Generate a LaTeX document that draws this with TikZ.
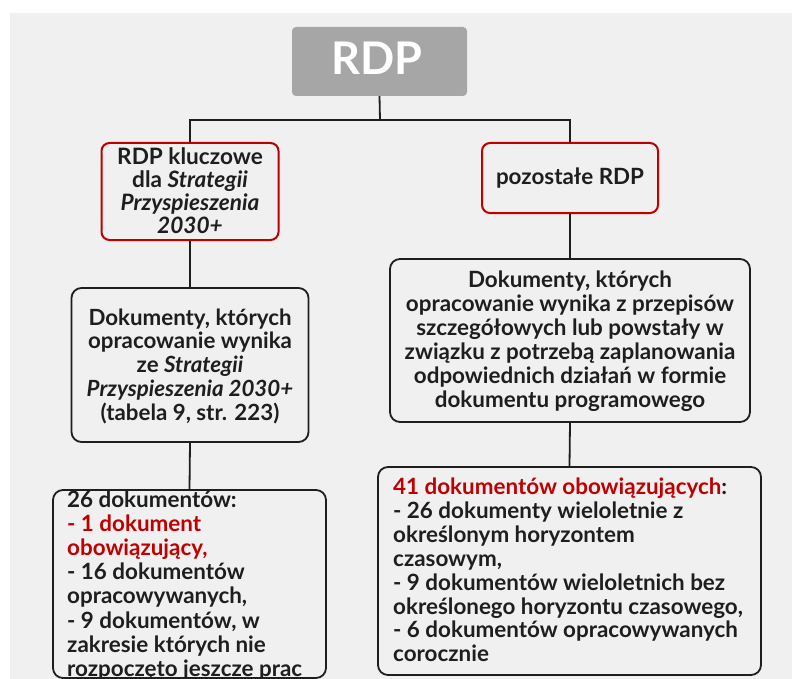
\documentclass[tikz,border=0pt]{standalone}
\usepackage{fontspec}
\setmainfont{Lato}
\definecolor{bg}{HTML}{F0F0F0}
\definecolor{ink}{HTML}{1E1E1E}
\definecolor{redc}{HTML}{C00000}
\definecolor{topg}{HTML}{A6A6A6}
\newcommand{\clines}[1]{\vtop{\halign{\hfil##\hfil\cr#1\crcr}}}
\newcommand{\llines}[1]{\vtop{\halign{##\hfil\cr#1\crcr}}}
\tikzset{
  box/.style={draw=ink, line width=1.8pt, rounded corners=10pt, inner sep=0pt, fill=bg},
  redbox/.style={draw=redc, line width=2pt, rounded corners=8pt, inner sep=0pt, fill=bg},
  topbox/.style={fill=topg, rounded corners=4pt, inner sep=0pt},
  txt/.style={inner sep=0pt, anchor=base, text=ink, font=\bfseries},
  link/.style={draw=ink, line width=1.8pt},
}
\begin{document}
\begin{tikzpicture}[x=1pt,y=-1pt]
\useasboundingbox (0,0) rectangle (792,679);
\clip (0,0) rectangle (792,679);
\fill[bg] (10,13) rectangle (792,679);

% boxes
\node[topbox, minimum width=175pt, minimum height=69pt] (rdp) at (379.5,61.5) {};
\node[redbox, minimum width=177pt, minimum height=97pt] (lred) at (190,191.5) {};
\node[redbox, minimum width=176pt, minimum height=70pt] (rred) at (570,178) {};
\node[box, minimum width=237pt, minimum height=154pt] (lmid) at (190,365) {};
\node[box, minimum width=360pt, minimum height=163pt] (rmid) at (570,340.5) {};
\node[box, minimum width=273pt, minimum height=188pt] (lbot) at (189.5,584) {};
\node[box, minimum width=383pt, minimum height=208pt] (rbot) at (569.5,571) {};

% connectors
\coordinate (j) at (380,120);
\draw[link] (rdp.south) -- (j);
\draw[link] (lred.north) |- (j) -| (rred.north);
\draw[link] (lred.south) -- (lmid.north);
\draw[link] (rred.south) -- (rmid.north);
\draw[link] (lmid.south) -- (lbot.north);
\draw[link] (rmid.south) -- (rbot.north);

% texts
\node[txt, text=white, font=\bfseries\fontsize{45}{50}\selectfont] (trdp) at (377,75) {RDP};

\node[txt, font=\bfseries\fontsize{22.6}{22.7}\selectfont] (tlred) at (190,165)
  {\clines{RDP kluczowe\cr dla \textit{Strategii}\cr \textit{Przyspieszenia}\cr \textit{2030+}}};

\node[txt, font=\bfseries\fontsize{22.4}{24}\selectfont] (trred) at (570,185) {pozostałe RDP};

\node[txt, font=\bfseries\fontsize{22.3}{23.8}\selectfont] (tlmid) at (190,325)
  {\clines{Dokumenty, których\cr opracowanie wynika\cr ze \textit{Strategii}\cr \textit{Przyspieszenia 2030+}\cr (tabela 9, str. 223)}};

\node[txt, font=\bfseries\fontsize{22.4}{24}\selectfont] (trmid) at (570,287)
  {\clines{Dokumenty, których\cr opracowanie wynika z przepisów\cr szczegółowych lub powstały w\cr związku z potrzebą zaplanowania\cr odpowiednich działań w formie\cr dokumentu programowego}};

\node[txt, anchor=base west, font=\bfseries\fontsize{22.4}{24.1}\selectfont] (tlbot) at (67,507.5)
  {\llines{26 dokumentów:\cr \textcolor{redc}{- 1 dokument}\cr \textcolor{redc}{obowiązujący,}\cr - 16 dokumentów\cr opracowywanych,\cr - 9 dokumentów, w\cr zakresie których nie\cr rozpoczęto jeszcze prac}};

\node[txt, anchor=base west, font=\bfseries\fontsize{22.4}{23.9}\selectfont] (trbot) at (393,494.5)
  {\llines{\textcolor{redc}{41 dokumentów obowiązujących}:\cr - 26 dokumenty wieloletnie z\cr określonym horyzontem\cr czasowym,\cr - 9 dokumentów wieloletnich bez\cr określonego horyzontu czasowego,\cr - 6 dokumentów opracowywanych\cr corocznie}};
\end{tikzpicture}
\end{document}
